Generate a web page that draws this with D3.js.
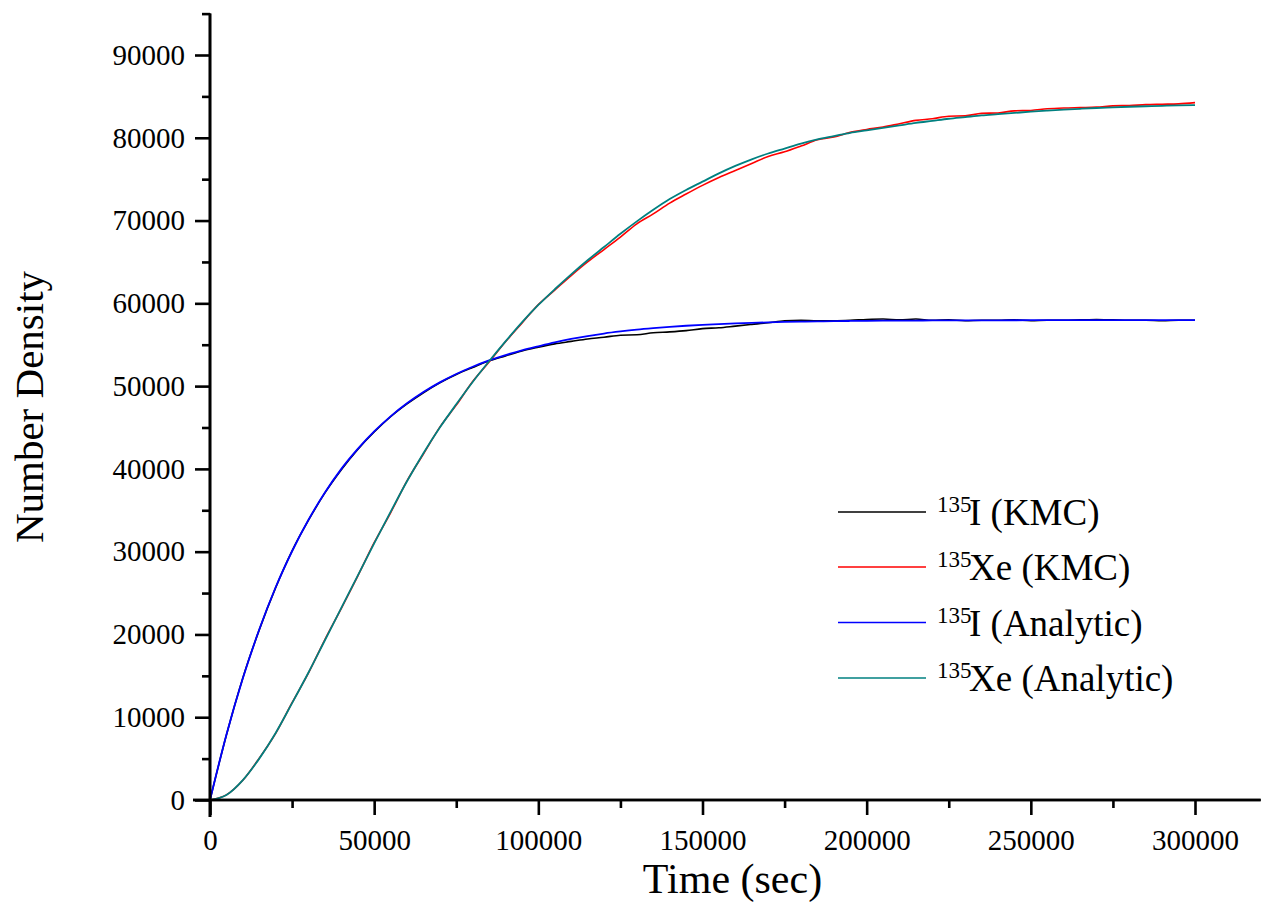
<!DOCTYPE html>
<html>
<head>
<meta charset="utf-8">
<script src="https://cdn.jsdelivr.net/npm/d3@7"></script>
<style>
  html, body { margin: 0; padding: 0; background: #fff; }
  svg { display: block; }
  text { font-family: "Liberation Serif", "Times New Roman", serif; fill: #000; }
</style>
</head>
<body>
<svg id="chart" width="1261" height="924"></svg>
<script>
// ---- data ----
const timeSec = [
  0, 5000, 10000, 15000, 20000, 25000, 30000, 35000, 40000, 45000,
  50000, 55000, 60000, 65000, 70000, 75000, 80000, 85000, 90000, 95000,
  100000, 105000, 110000, 115000, 120000, 125000, 130000, 135000, 140000, 145000,
  150000, 155000, 160000, 165000, 170000, 175000, 180000, 185000, 190000, 195000,
  200000, 205000, 210000, 215000, 220000, 225000, 230000, 235000, 240000, 245000,
  250000, 255000, 260000, 265000, 270000, 275000, 280000, 285000, 290000, 295000,
  300000
];
const iodineKMC = [
  0, 7850, 14750, 20550, 25650, 30100, 33800, 37100, 39900, 42350,
  44450, 46300, 47850, 49200, 50400, 51400, 52250, 53050, 53650, 54250,
  54700, 55100, 55400, 55700, 55900, 56150, 56200, 56450, 56550, 56700,
  56950, 57050, 57250, 57450, 57650, 57900, 57950, 57900, 57900, 57950,
  58050, 58100, 58000, 58100, 57950, 58000, 57900, 57950, 57950, 58000,
  57900, 57950, 57950, 58000, 58050, 58000, 57950, 57950, 57900, 57950,
  57950
];
const xenonKMC = [
  0, 620, 2380, 5050, 8050, 11750, 15350, 19380, 23150, 27050,
  31080, 34700, 38550, 41800, 45050, 47700, 50550, 52900, 55350, 57600,
  59850, 61600, 63350, 65000, 66500, 68000, 69600, 70800, 72100, 73200,
  74250, 75200, 76050, 76900, 77750, 78300, 79000, 79750, 80100, 80650,
  81000, 81300, 81700, 82100, 82300, 82600, 82650, 82950, 83000, 83250,
  83300, 83500, 83600, 83650, 83700, 83850, 83900, 84000, 84050, 84100,
  84250
];
const iodineAnalytic = [
  0, 7890, 14700, 20590, 25700, 30050, 33850, 37140, 40000, 42410,
  44530, 46350, 47920, 49280, 50450, 51460, 52340, 53100, 53750, 54320,
  54810, 55280, 55700, 56050, 56350, 56600, 56820, 57000, 57160, 57290,
  57400, 57490, 57570, 57640, 57700, 57750, 57790, 57820, 57850, 57870,
  57890, 57900, 57910, 57920, 57930, 57935, 57940, 57945, 57950, 57955,
  57960, 57960, 57965, 57970, 57970, 57975, 57975, 57980, 57980, 57980,
  57980
];
const xenonAnalytic = [
  0, 600, 2400, 5000, 8100, 11700, 15400, 19300, 23200, 27100,
  31000, 34800, 38500, 41900, 45000, 47800, 50500, 53000, 55400, 57700,
  59800, 61700, 63500, 65200, 66800, 68400, 69900, 71300, 72600, 73700,
  74700, 75700, 76600, 77400, 78100, 78700, 79300, 79800, 80200, 80600,
  80900, 81200, 81500, 81800, 82050, 82300, 82500, 82700, 82850, 83000,
  83150, 83280, 83400, 83500, 83600, 83680, 83750, 83810, 83860, 83910,
  83950
];
const seriesNames = ["I (KMC)", "Xe (KMC)", "I (Analytic)", "Xe (Analytic)"];
const seriesSup = ["135", "135", "135", "135"];
const seriesColors = ["#000000", "#ff0000", "#0000ff", "#008080"];
const xTickValues = [0, 50000, 100000, 150000, 200000, 250000, 300000];
const yTickValues = [0, 10000, 20000, 30000, 40000, 50000, 60000, 70000, 80000, 90000];
const xLabel = "Time (sec)";
const yLabel = "Number Density";

// ---- layout ----
const svg = d3.select("#chart");
const x0 = 210, y0 = 800;
const x = d3.scaleLinear().domain([0, 320000]).range([x0, x0 + 320000 * 985 / 300000]);
const y = d3.scaleLinear().domain([0, 95000]).range([y0, y0 - 95000 * 745 / 90000]);

const series = [iodineKMC, xenonKMC, iodineAnalytic, xenonAnalytic];

// curves
const line = d3.line().curve(d3.curveMonotoneX).x(d => x(d[0])).y(d => y(d[1]));
series.forEach((vals, i) => {
  svg.append("path")
    .datum(timeSec.map((t, k) => [t, vals[k]]))
    .attr("d", line)
    .attr("fill", "none")
    .attr("stroke", seriesColors[i])
    .attr("stroke-width", i >= 2 ? 1.8 : 1.6)
    .attr("stroke-linejoin", "round");
});

// axes
const axisStroke = 2.6;
const xAxis = d3.axisBottom(x).tickValues(xTickValues).tickSize(15).tickPadding(14)
  .tickFormat(d3.format("d"));
const gx = svg.append("g").attr("transform", `translate(0,${y0})`).call(xAxis);
const xMinor = d3.axisBottom(x).tickValues([25000, 75000, 125000, 175000, 225000, 275000])
  .tickSize(8).tickFormat("");
const gxm = svg.append("g").attr("transform", `translate(0,${y0})`).call(xMinor);
const yAxis = d3.axisLeft(y).tickValues(yTickValues).tickSize(15).tickPadding(10)
  .tickFormat(d3.format("d"));
const gy = svg.append("g").attr("transform", `translate(${x0},0)`).call(yAxis);
const yMinor = d3.axisLeft(y).tickValues([5000, 15000, 25000, 35000, 45000, 55000, 65000, 75000, 85000, 95000])
  .tickSize(8).tickFormat("");
const gym = svg.append("g").attr("transform", `translate(${x0},0)`).call(yMinor);

[gx, gxm, gy, gym].forEach(g => {
  g.selectAll("path.domain").attr("stroke", "#000").attr("stroke-width", axisStroke);
  g.selectAll(".tick line").attr("stroke", "#000").attr("stroke-width", axisStroke);
  g.selectAll(".tick text").attr("font-family", "'Liberation Serif', serif")
    .attr("font-size", 29).attr("fill", "#000");
});
[gx, gxm].forEach(g => g.select("path.domain").attr("d", `M${x.range()[0] - 17},0H${x.range()[1]}`));
[gy, gym].forEach(g => g.select("path.domain").attr("d", `M0,${y.range()[0] + 17}V${y.range()[1]}`));

// axis titles
svg.append("text").attr("x", (x(0) + x(300000)) / 2 + 30).attr("y", 893)
  .attr("text-anchor", "middle").attr("font-size", 42).text(xLabel);
svg.append("text").attr("transform", "translate(43,407) rotate(-90)")
  .attr("text-anchor", "middle").attr("font-size", 41).text(yLabel);

// legend
const legY = [512, 567, 622.5, 678];
seriesNames.forEach((name, i) => {
  const ly = legY[i];
  svg.append("line").attr("x1", 838).attr("x2", 926).attr("y1", ly).attr("y2", ly)
    .attr("stroke", seriesColors[i]).attr("stroke-width", 1.6);
  svg.append("text").attr("x", 937).attr("y", ly).attr("font-size", 23).text(seriesSup[i]);
  svg.append("text").attr("x", 969).attr("y", ly + 13).attr("font-size", 37).text(name);
});
</script>
</body>
</html>
